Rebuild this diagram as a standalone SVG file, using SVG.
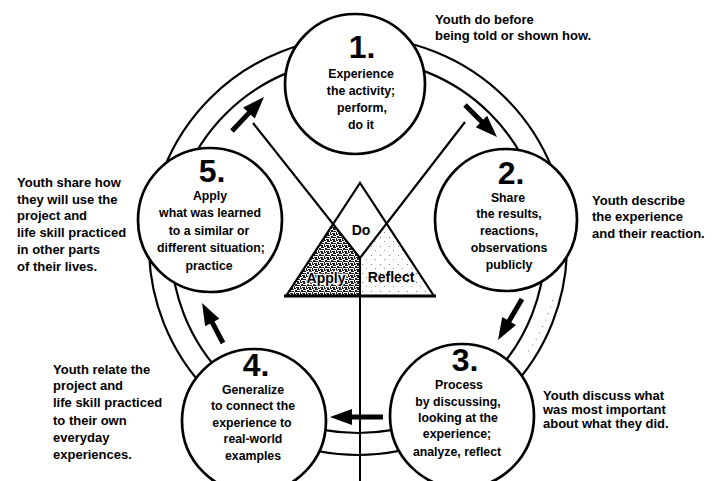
<svg xmlns="http://www.w3.org/2000/svg" width="714" height="481" viewBox="0 0 714 481">
  <defs>
    <style>
      .ring { fill: none; stroke: #000; stroke-width: 2.2; }
      .stage { fill: #fff; stroke: #000; stroke-width: 2.7; }
      .num { font-family: "Liberation Sans", Arial, sans-serif; font-weight: bold; font-size: 32px; text-anchor: middle; fill: #000; }
      .body { font-family: "Liberation Sans", Arial, sans-serif; font-weight: bold; font-size: 12.3px; text-anchor: middle; fill: #000; }
      .note { font-family: "Liberation Sans", Arial, sans-serif; font-weight: bold; font-size: 13px; fill: #000; }
      .tri { font-family: "Liberation Sans", Arial, sans-serif; font-weight: bold; font-size: 14px; text-anchor: middle; fill: #000; }
      .edge { fill: none; stroke: #000; stroke-width: 2.2; stroke-linejoin: miter; }
      .flow { fill: none; stroke: #000; stroke-width: 5; marker-end: url(#head); }
    </style>
    <marker id="head" markerUnits="userSpaceOnUse" markerWidth="24" markerHeight="16" viewBox="0 0 22 16" refX="4" refY="8" orient="auto">
      <path d="M0,0 L22,8 L0,16 z" fill="#000"/>
    </marker>
    <!-- coarse dark grain for the Apply corner -->
    <pattern id="grainDark" width="6" height="6" patternUnits="userSpaceOnUse">
      <rect width="6" height="6" fill="#fff"/>
      <path d="M0 0h2v1h-2z M3 0h2v2h-2z M1 2h2v2h-2z M4 3h2v1h-2z M0 4h1v2h-1z M2 5h3v1h-3z M5 1h1v1h-1z M3 3h1v1h-1z" fill="#1a1a1a"/>
    </pattern>
    <!-- sparse light grain for the Reflect corner -->
    <pattern id="grainLight" width="9" height="9" patternUnits="userSpaceOnUse">
      <rect width="9" height="9" fill="#fff"/>
      <rect x="2" y="3" width="1" height="1" fill="#777"/>
      <rect x="6" y="7" width="1" height="1" fill="#999"/>
    </pattern>
  </defs>

  <rect width="714" height="481" fill="#fff"/>

  <!-- double ring behind the five stages -->
  <g id="ring">
    <circle class="ring" cx="358" cy="246" r="209"/>
    <circle class="ring" cx="358" cy="246" r="187"/>
    <path d="M553,300 A200,200 0 0 1 528,352" fill="none" stroke="#888" stroke-width="1.2" stroke-dasharray="1 6"/>
  </g>

  <!-- central Do / Reflect / Apply triangle -->
  <g id="triangle">
    <polygon points="333.1,224.1 360,258 360,296 286,296" fill="url(#grainDark)"/>
    <polygon points="386.6,223.6 360,258 360,296 434,296" fill="url(#grainLight)"/>
    <polyline class="edge" points="286,296 360,183 434,296"/>
    <line x1="284" y1="296" x2="436" y2="296" stroke="#000" stroke-width="3"/>
    <polyline class="edge" points="253,123 360,258 465,122"/>
    <line x1="360" y1="258" x2="360" y2="481" stroke="#000" stroke-width="2"/>
    <text class="tri" x="361" y="235">Do</text>
    <text class="tri" x="326" y="283" font-size="15" stroke="#fff" stroke-width="2.5" paint-order="stroke">Apply</text>
    <text class="tri" x="391" y="282">Reflect</text>
  </g>

  <!-- flow arrows between stages -->
  <g id="connectors">
    <line class="flow" x1="465" y1="105" x2="484.3" y2="124.3"/>
    <line class="flow" x1="522" y1="299" x2="507.1" y2="324.5"/>
    <line class="flow" x1="383" y1="417" x2="348" y2="417"/>
    <line class="flow" x1="223" y1="343" x2="210.4" y2="318.9"/>
    <line class="flow" x1="232" y1="131" x2="251.7" y2="110.1"/>
  </g>

  <g id="stage-1">
    <circle class="stage" cx="355" cy="84" r="70"/>
    <text class="num" x="362" y="58">1.</text>
    <text class="body" x="361" y="78">Experience</text>
    <text class="body" x="361" y="95">the activity;</text>
    <text class="body" x="362" y="112">perform,</text>
    <text class="body" x="361" y="129">do it</text>
  </g>

  <g id="stage-2">
    <circle class="stage" cx="506" cy="220" r="71"/>
    <text class="num" x="511" y="184">2.</text>
    <text class="body" x="508" y="202">Share</text>
    <text class="body" x="509" y="218">the results,</text>
    <text class="body" x="509" y="235">reactions,</text>
    <text class="body" x="509" y="252">observations</text>
    <text class="body" x="509" y="269">publicly</text>
  </g>

  <g id="stage-3">
    <circle class="stage" cx="462" cy="416" r="72"/>
    <text class="num" x="465" y="371">3.</text>
    <text class="body" x="459" y="389">Process</text>
    <text class="body" x="458" y="406">by discussing,</text>
    <text class="body" x="458" y="422">looking at the</text>
    <text class="body" x="457" y="438">experience;</text>
    <text class="body" x="457" y="456">analyze, reflect</text>
  </g>

  <g id="stage-4">
    <circle class="stage" cx="254" cy="421" r="72"/>
    <text class="num" x="256" y="376">4.</text>
    <text class="body" x="253" y="394">Generalize</text>
    <text class="body" x="253" y="410">to connect the</text>
    <text class="body" x="252" y="427">experience to</text>
    <text class="body" x="253" y="443">real-world</text>
    <text class="body" x="253" y="460">examples</text>
  </g>

  <g id="stage-5">
    <circle class="stage" cx="210" cy="220" r="72"/>
    <text class="num" x="212" y="182">5.</text>
    <text class="body" x="210" y="200">Apply</text>
    <text class="body" x="210" y="217">what was learned</text>
    <text class="body" x="209" y="235">to a similar or</text>
    <text class="body" x="211" y="252">different situation;</text>
    <text class="body" x="209" y="270">practice</text>
  </g>

  <!-- side notes describing what youth do at each stage -->
  <g id="note-1">
    <text class="note" x="435" y="24">Youth do before</text>
    <text class="note" x="435" y="40">being told or shown how.</text>
  </g>
  <g id="note-2">
    <text class="note" x="592" y="205">Youth describe</text>
    <text class="note" x="592" y="221">the experience</text>
    <text class="note" x="592" y="238">and their reaction.</text>
  </g>
  <g id="note-3">
    <text class="note" x="543" y="400">Youth discuss what</text>
    <text class="note" x="543" y="414">was most important</text>
    <text class="note" x="543" y="428">about what they did.</text>
  </g>
  <g id="note-4">
    <text class="note" x="53" y="374">Youth relate the</text>
    <text class="note" x="53" y="390">project and</text>
    <text class="note" x="53" y="407">life skill practiced</text>
    <text class="note" x="53" y="425">to their own</text>
    <text class="note" x="53" y="442">everyday</text>
    <text class="note" x="53" y="459">experiences.</text>
  </g>
  <g id="note-5">
    <text class="note" x="17" y="187">Youth share how</text>
    <text class="note" x="17" y="204">they will use the</text>
    <text class="note" x="17" y="220">project and</text>
    <text class="note" x="17" y="237">life skill practiced</text>
    <text class="note" x="17" y="254">in other parts</text>
    <text class="note" x="17" y="271">of their lives.</text>
  </g>
</svg>
